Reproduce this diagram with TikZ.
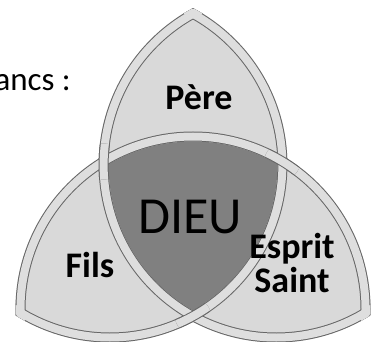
\documentclass[tikz,border=0pt]{standalone}
\usepackage{fontspec}
\setmainfont{Carlito}
\usepackage{tikz}
\usetikzlibrary{calc}

\definecolor{lobegray}{gray}{0.85}
\definecolor{bandgray}{gray}{0.87}
\definecolor{rimgray}{gray}{0.40}
\definecolor{coregray}{gray}{0.50}

\newcommand{\rOut}{177.5}
\newcommand{\rMid}{172.5}
\newcommand{\rIn}{167.5}

\tikzset{
  rim/.style={draw=rimgray, line width=10pt},
  bandfill/.style={draw=bandgray, line width=8pt},
  lobelabel/.style={font=\fontsize{36}{34}\selectfont\bfseries, inner sep=0pt, align=center},
}

\begin{document}
\begin{tikzpicture}[x=1pt,y=-1pt]
\useasboundingbox (0,0) rectangle (377,342);
\clip (0,0) rectangle (377,342);
\fill[white] (0,0) rectangle (377,342);

\coordinate (c1) at (193,309);
\coordinate (c2) at (276.1,165);
\coordinate (c3) at (109.9,165);
\coordinate (xl) at (103.7,161.5);
\coordinate (xr) at (282.3,161.5);
\coordinate (xb) at (193,316.2);

% lobes = points in two of the three discs
\foreach \a/\b in {c1/c2,c2/c3,c3/c1}{
  \begin{scope}
    \clip (\a) circle (\rOut);
    \fill[lobegray] (\b) circle (\rOut);
  \end{scope}
}
\begin{scope}
  \clip (c1) circle (\rIn);
  \clip (c2) circle (\rIn);
  \fill[coregray] (c3) circle (\rIn);
\end{scope}

% bands
\foreach \s in {rim,bandfill}{
  \foreach \a/\b/\c in {c1/c2/c3,c2/c3/c1,c3/c1/c2}{
    \begin{scope}
      \clip (\b) circle (\rOut) (\c) circle (\rOut);
      \draw[\s] (\a) circle (\rMid);
    \end{scope}
  }
}
% over / under at the crossings
\foreach \p/\a/\b/\c in {xl/c2/c1/c3,xr/c1/c2/c3,xb/c3/c1/c2}{
  \begin{scope}
    \clip (\p) circle (18);
    \clip (\b) circle (\rOut) (\c) circle (\rOut);
    \draw[rim] (\a) circle (\rMid);
    \draw[bandfill] (\a) circle (\rMid);
  \end{scope}
}

\node[lobelabel, anchor=base] (pere) at (199,110) {Père};
\node[lobelabel] (esprit) at (292,262.5) {Esprit\\Saint};
\node[lobelabel, anchor=base] (fils) at (90,277) {Fils};
\node[font=\fontsize{52}{52}\selectfont, inner sep=0pt, anchor=base] (dieu) at (190,233) {DIEU};
\node[font=\fontsize{33}{33}\selectfont, inner sep=0pt, anchor=base east] (intro) at (71,91) {ancs :};
\end{tikzpicture}
\end{document}
